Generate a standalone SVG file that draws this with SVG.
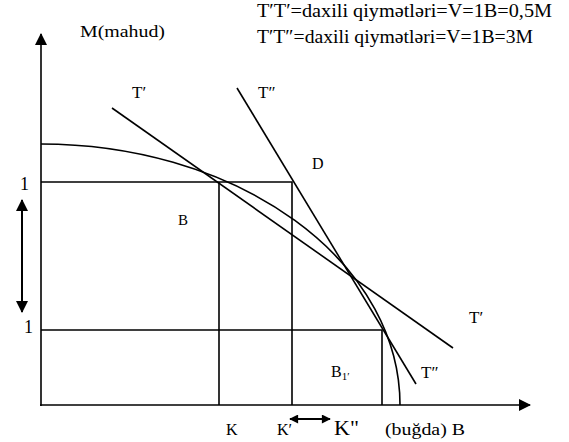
<svg xmlns="http://www.w3.org/2000/svg" width="569" height="442" viewBox="0 0 569 442">
<style>
.ln{stroke:#000;stroke-width:1.6;fill:none}
text{font-family:'Liberation Serif','DejaVu Serif','Times New Roman',serif;fill:#000}
</style>
<defs>
<marker id="ah" viewBox="0 0 12 12" refX="11" refY="6" markerWidth="12" markerHeight="12" markerUnits="userSpaceOnUse" orient="auto-start-reverse">
<path d="M0,0 L12,6 L0,12 Z" fill="#000"/>
</marker>
<marker id="ahs" viewBox="0 0 10 10" refX="9" refY="5" markerWidth="10" markerHeight="9" markerUnits="userSpaceOnUse" orient="auto-start-reverse">
<path d="M0,0 L10,5 L0,10 Z" fill="#000"/>
</marker>
</defs>
<rect width="569" height="442" fill="#fff"/>
<g id="axes">
<line class="ln" x1="41" y1="406" x2="41" y2="34" marker-end="url(#ah)"/>
<line class="ln" x1="40" y1="405" x2="530" y2="405" marker-end="url(#ah)"/>
</g>
<g id="connectors">
<path id="ppf" class="ln" d="M41,144 A359,261 0 0 1 400,405"/>
<line id="tprime" class="ln" x1="112" y1="108" x2="453" y2="348"/>
<line id="tdprime" class="ln" x1="237" y1="88" x2="416" y2="384"/>
<polyline class="ln" points="41,182 292,182 292,405"/>
<line class="ln" x1="219" y1="182" x2="219" y2="405"/>
<polyline class="ln" points="41,330 382,330 382,405"/>
<line class="ln" x1="22" y1="200" x2="22" y2="312" marker-start="url(#ah)" marker-end="url(#ah)" style="stroke-width:2"/>
<line class="ln" x1="290" y1="419" x2="330" y2="419" marker-start="url(#ahs)" marker-end="url(#ahs)" style="stroke-width:2"/>
</g>
<g id="legend" font-family="Liberation Serif, DejaVu Serif, serif">
<text x="257" y="17" font-size="18" textLength="295" lengthAdjust="spacingAndGlyphs">T′T′=daxili qiymətləri=V=1B=0,5M</text>
<text x="257" y="43" font-size="18" textLength="276" lengthAdjust="spacingAndGlyphs">T′T″=daxili qiymətləri=V=1B=3M</text>
</g>
<g id="labels" font-family="Liberation Serif, DejaVu Serif, serif">
<text x="80" y="37" font-size="17" textLength="85" lengthAdjust="spacingAndGlyphs">M(mahud)</text>
<text x="132" y="98" font-size="17">T′</text>
<text x="258" y="98" font-size="17">T″</text>
<text x="312" y="169" font-size="16">D</text>
<text x="178" y="225" font-size="15">B</text>
<text x="20" y="190" font-size="18">1</text>
<text x="24" y="333" font-size="18">1</text>
<text x="469" y="323" font-size="17">T′</text>
<text x="421" y="378" font-size="17">T″</text>
<text x="331" y="377" font-size="16">B<tspan font-size="11" dy="3">1′</tspan></text>
<text x="226" y="435" font-size="16">K</text>
<text x="277" y="435" font-size="16">K′</text>
<text x="334" y="435" font-size="22">K"</text>
<text x="385" y="435" font-size="16" textLength="80" lengthAdjust="spacingAndGlyphs">(buğda) B</text>
</g>
</svg>
